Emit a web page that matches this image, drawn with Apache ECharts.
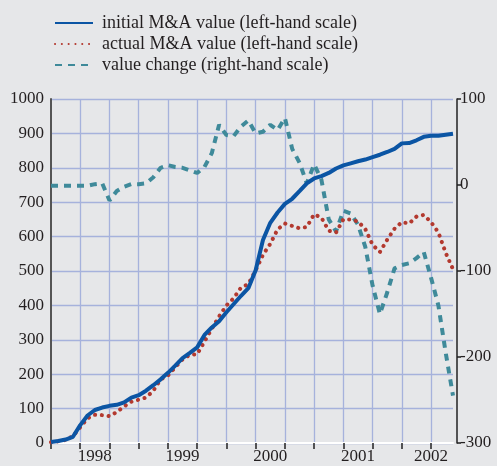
<!DOCTYPE html>
<html>
<head>
<meta charset="utf-8">
<script src="https://cdn.jsdelivr.net/npm/echarts@6/dist/echarts.min.js"></script>
<style>
  html, body { margin: 0; padding: 0; background: #e6e7e9; }
  #main { width: 497px; height: 466px; }
</style>
</head>
<body>
<div id="main"></div>
<script>
// monthly, Jan 1998 .. Aug 2002
var months = [
  '1998-01','1998-02','1998-03','1998-04','1998-05','1998-06','1998-07','1998-08','1998-09','1998-10','1998-11','1998-12',
  '1999-01','1999-02','1999-03','1999-04','1999-05','1999-06','1999-07','1999-08','1999-09','1999-10','1999-11','1999-12',
  '2000-01','2000-02','2000-03','2000-04','2000-05','2000-06','2000-07','2000-08','2000-09','2000-10','2000-11','2000-12',
  '2001-01','2001-02','2001-03','2001-04','2001-05','2001-06','2001-07','2001-08','2001-09','2001-10','2001-11','2001-12',
  '2002-01','2002-02','2002-03','2002-04','2002-05','2002-06','2002-07','2002-08'
];
var years = ['1998', '1999', '2000', '2001', '2002'];

var initialValue = [3, 6, 10, 18, 52, 80, 96, 103, 108, 111, 118, 132,
  139, 152, 168, 185, 204, 225, 247, 262, 278, 314, 336, 354,
  380, 404, 428, 450, 502, 590, 640, 670, 695, 710, 732, 755,
  769, 776, 785, 798, 807, 813, 819, 824, 831, 838, 846, 855,
  871, 872, 880, 890, 893, 893, 896, 899];

var actualValue = [2, 5, 9, 20, 46, 72, 82, 81, 78, 90, 106, 120,
  126, 132, 152, 185, 196, 220, 243, 256, 258, 295, 332, 368,
  400, 421, 452, 462, 502, 547, 579, 621, 638, 631, 624, 628,
  665, 655, 617, 612, 650, 650, 644, 622, 576, 555, 591, 623,
  642, 638, 658, 663, 642, 612, 553, 505];

var valueChange = [-1, -1, -1, -1, -1, -1, 1, 2, -18, -7, -2, 1,
  1, 2, 9, 20, 23, 21, 20, 17, 14, 21, 37, 70,
  58, 57, 68, 75, 60, 62, 70, 64, 78, 42, 26, 2,
  24, 6, -40, -54, -30, -33, -46, -72, -117, -150, -125, -97,
  -93, -91, -85, -78, -108, -140, -195, -245];

var seriesNames = [
  'initial M&A value (left-hand scale)',
  'actual M&A value (left-hand scale)',
  'value change (right-hand scale)'
];

// one label per year, centred on the visible part of that year
var yearLabelAt = {};
years.forEach(function (y) {
  var first = -1, last = -1;
  months.forEach(function (m, i) {
    if (m.slice(0, 4) === y) { if (first < 0) first = i; last = i; }
  });
  yearLabelAt[Math.round((first + Math.min(first + 12, last)) / 2)] = y;
});

var serif = 'Liberation Serif';
var gridColor = '#a6b2dc';

var chart = echarts.init(document.getElementById('main'));
var option = {
  backgroundColor: '#e6e7e9',
  animation: false,
  legend: {
    orient: 'vertical',
    left: 49,
    top: 9,
    itemWidth: 38,
    itemHeight: 14,
    itemGap: 3,
    data: seriesNames,
    itemStyle: { opacity: 0 },
    textStyle: { fontFamily: serif, fontSize: 18, lineHeight: 18, color: '#231f20', padding: [0, 0, 0, 4] }
  },
  grid: { left: 51, right: 44, top: 99, bottom: 23 },
  xAxis: {
    type: 'category',
    data: months,
    boundaryGap: false,
    axisLine: { lineStyle: { color: '#ffffff', width: 2 } },
    axisTick: {
      show: true,
      length: 6,
      interval: function (i) { return i % 4 === 0; },
      lineStyle: { color: '#222', width: 1.5 }
    },
    axisLabel: {
      interval: function (i) { return yearLabelAt[i] !== undefined; },
      formatter: function (v, i) { return yearLabelAt[i] || ''; },
      fontFamily: serif, fontSize: 17, color: '#231f20', margin: 5
    },
    splitLine: {
      show: true,
      interval: function (i) { return i % 4 === 0 && i > 0; },
      lineStyle: { color: gridColor, width: 1.3 }
    }
  },
  yAxis: [
    {
      type: 'value',
      min: 0, max: 1000, interval: 100,
      axisLine: { show: true, lineStyle: { color: '#555', width: 2 } },
      axisTick: { show: false },
      axisLabel: {
        formatter: function (v) { return String(v); },
        fontFamily: serif, fontSize: 17, color: '#231f20', margin: 7
      },
      splitLine: { show: true, lineStyle: { color: gridColor, width: 1.3 } }
    },
    {
      type: 'value',
      min: -300, max: 100, interval: 100,
      position: 'right',
      offset: 4,
      axisLine: { show: true, lineStyle: { color: '#222', width: 1.5 } },
      axisTick: { show: true, length: 4, lineStyle: { color: '#222', width: 1.5 } },
      axisLabel: {
        formatter: function (v) { return String(v); },
        fontFamily: serif, fontSize: 17, color: '#231f20', margin: 3
      },
      splitLine: { show: false }
    }
  ],
  series: [
    {
      name: seriesNames[2],
      type: 'line',
      yAxisIndex: 1,
      data: valueChange,
      showSymbol: false,
      symbol: 'none',
      lineStyle: { color: '#3f8a9a', width: 4, type: [7, 6] },
      itemStyle: { color: '#3f8a9a' },
      z: 2
    },
    {
      name: seriesNames[1],
      type: 'line',
      data: actualValue,
      showSymbol: false,
      symbol: 'none',
      lineStyle: { color: '#b3392f', width: 4, type: [0.1, 6.7], cap: 'round' },
      itemStyle: { color: '#b3392f' },
      z: 3
    },
    {
      name: seriesNames[0],
      type: 'line',
      data: initialValue,
      showSymbol: false,
      symbol: 'none',
      lineStyle: { color: '#0b55a4', width: 4 },
      itemStyle: { color: '#0b55a4' },
      z: 4
    }
  ]
};
chart.setOption(option);
</script>
</body>
</html>
